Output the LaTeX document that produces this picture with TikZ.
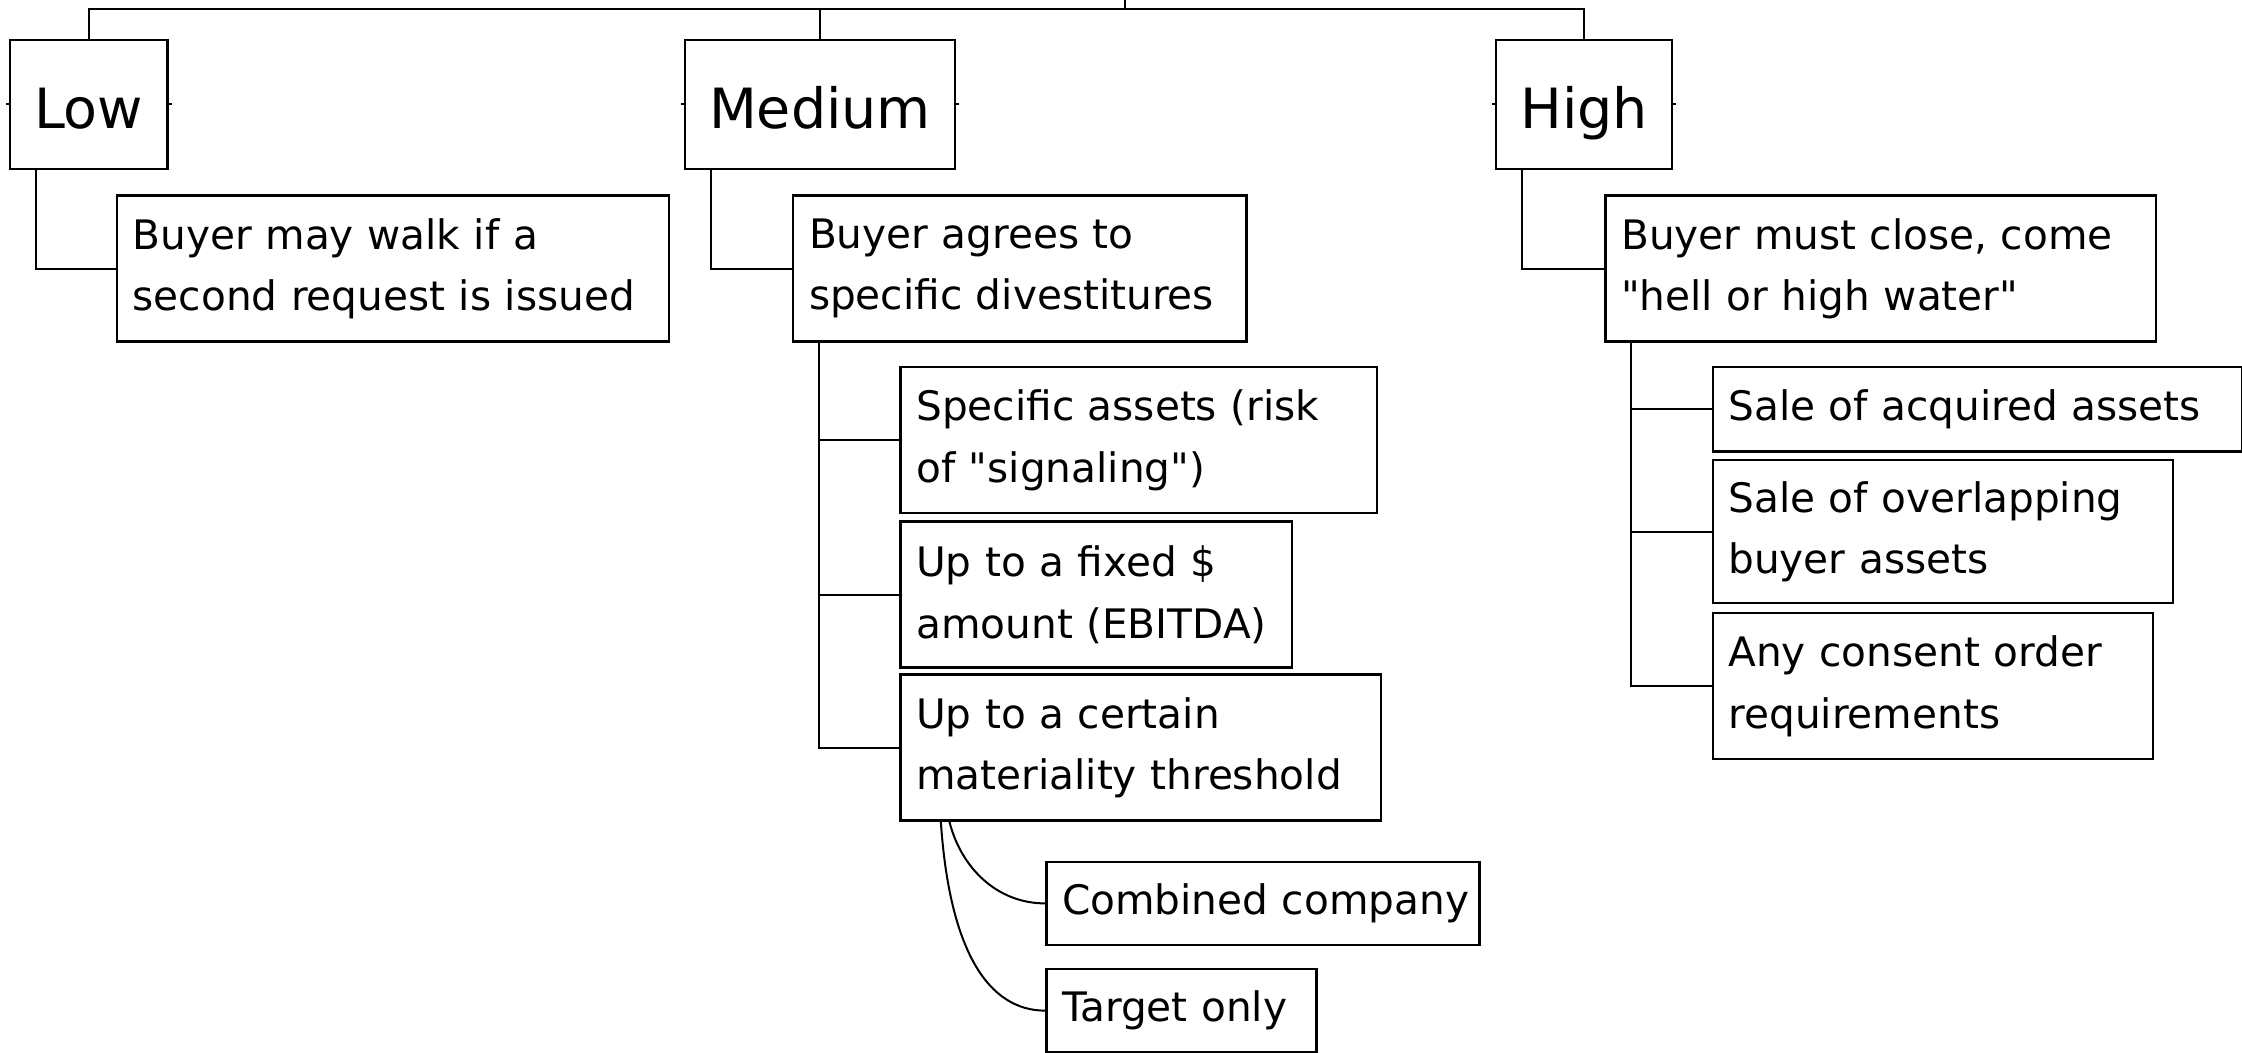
\documentclass[tikz,border=0pt]{standalone}
\usepackage{fontspec}
\setmainfont{DejaVu Sans}
\usepackage{tikz}

\tikzset{
    riskbox/.style={draw, line width=0.8pt, inner xsep=8.5pt, inner ysep=0pt,
        text height=31pt, text depth=14pt, font=\fontsize{19.4}{23}\selectfont},
    termbox/.style={draw, line width=0.8pt, anchor=north west, align=left,
        inner xsep=5.5pt, text width=#1, minimum height=51pt,
        font=\fontsize{14.2}{21.5}\selectfont},
    oneline/.style={minimum height=29.5pt},
    branch/.style={line width=0.7pt}
}
\newcommand{\qq}[1]{\textquotedbl #1\textquotedbl}

\begin{document}
\begin{tikzpicture}[x=0.5pt, y=-0.5pt]
    \useasboundingbox (0,0) rectangle (1568,736);

    % top level
    \node[riskbox] (low)  at (62,73)    {Low};
    \node[riskbox] (med)  at (573.5,73) {Medium};
    \node[riskbox] (high) at (1108,73)  {High};

    \coordinate (bar)  at (0,6);
    \coordinate (root) at (787,0);

    % second level
    \node[termbox=182pt]   (lowc)  at (81,136)   {Buyer may walk if a\\second request is issued};
    \node[termbox=147.5pt] (medc)  at (554,136)  {Buyer agrees to\\specific divestitures};
    \node[termbox=181.5pt] (highc) at (1122,136) {Buyer must close, come\\\qq{hell or high water}};

    % medium branch
    \node[termbox=155.5pt] (spec)  at (629,256) {Specific assets (risk\\of \qq{signaling})};
    \node[termbox=126pt]   (fixed) at (629,364) {Up to a fixed \$\\amount (EBITDA)};
    \node[termbox=157pt]   (mat)   at (629,471) {Up to a certain\\materiality threshold};
    \node[termbox=140.5pt, oneline, minimum height=29pt] (comb)   at (731,602) {\mbox{Combined company}};
    \node[termbox=83.5pt, oneline, minimum height=29pt]  (target) at (731,677) {Target only};

    % high branch
    \node[termbox=174pt, oneline] (acq)  at (1197,256) {Sale of acquired assets};
    \node[termbox=150pt, minimum height=50pt] (over) at (1197,321) {Sale of overlapping\\buyer assets};
    \node[termbox=143pt]   (cons) at (1197,428) {Any consent order\\requirements};

    \begin{scope}[branch]
        \draw (root) -- (root |- bar);
        \draw (low.north) |- (high.north |- bar) -- (high.north);
        \draw (med.north) -- (med.north |- bar);

        \foreach \n in {low,med,high}{
            \draw (\n.west) -- ++(-2,0);
            \draw (\n.east) -- ++(2,0);
        };

        \draw ([xshift=9.5pt]low.south west)  |- (lowc.west);
        \draw ([xshift=9.5pt]med.south west)  |- (medc.west);
        \draw ([xshift=9.5pt]high.south west) |- (highc.west);

        \foreach \n in {spec,fixed,mat}{
            \draw ([xshift=9.5pt]medc.south west) |- (\n.west);
        };
        \foreach \n in {acq,over,cons}{
            \draw ([xshift=9.5pt]highc.south west) |- (\n.west);
        };

        % curved links under the threshold box
        \draw ([xshift=17.5pt]mat.south west) .. controls +(8,32) and +(-34,0) .. (comb.west);
        \draw ([xshift=14.5pt]mat.south west) .. controls +(6,90) and +(-40,0) .. (target.west);
    \end{scope}
\end{tikzpicture}
\end{document}
